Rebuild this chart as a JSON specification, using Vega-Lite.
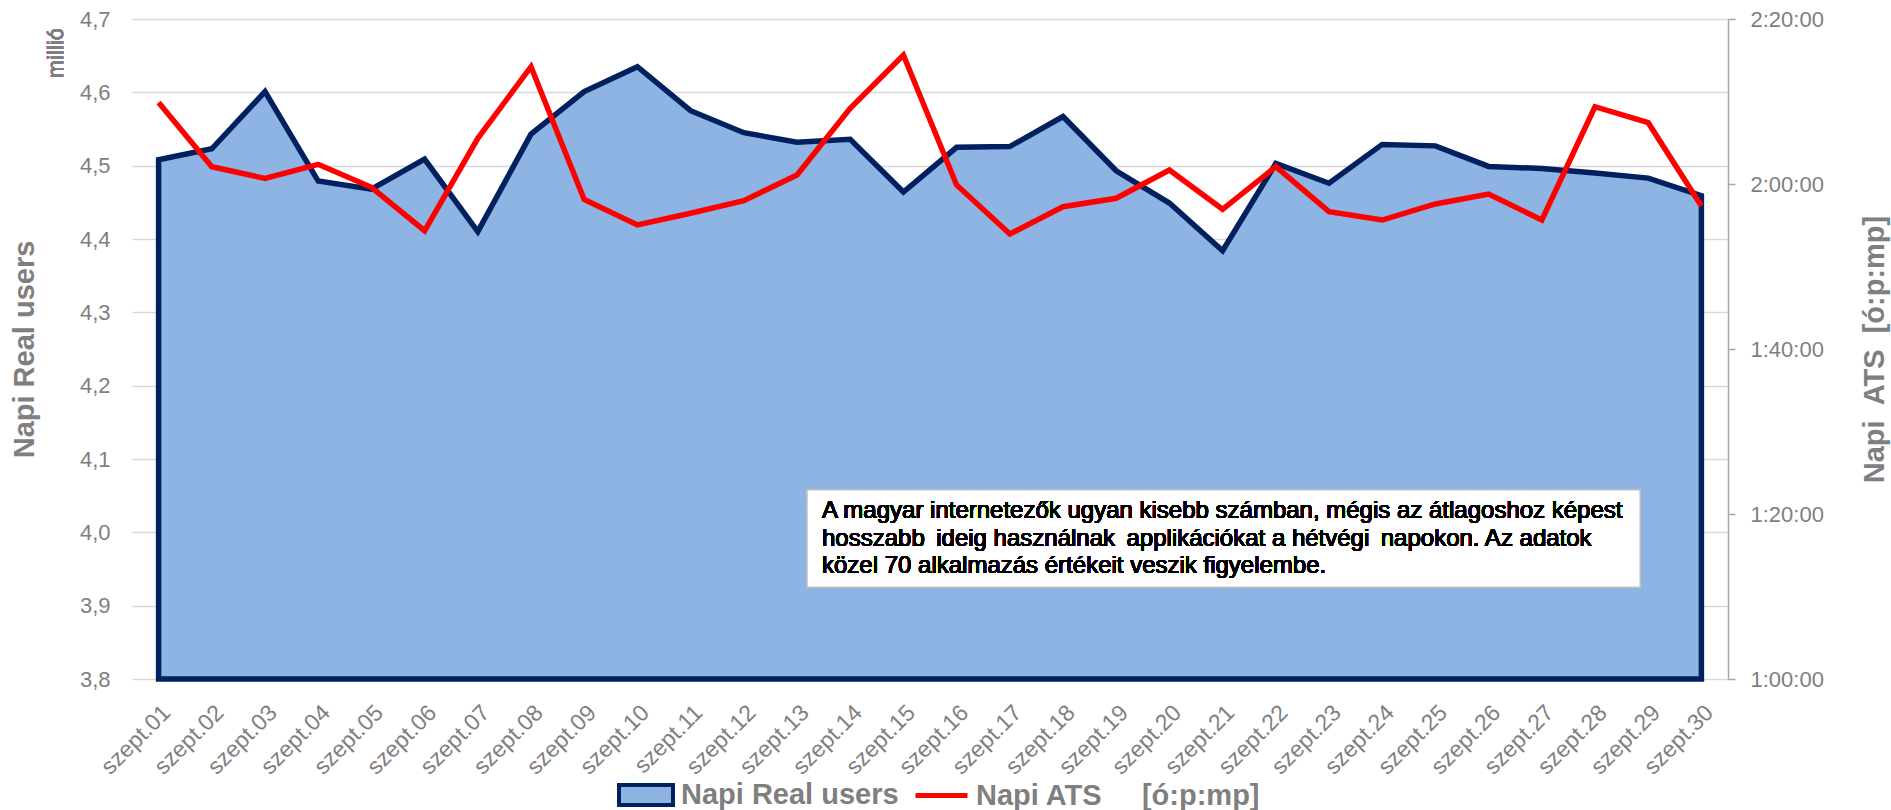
{
  "$schema": "https://vega.github.io/schema/vega-lite/v6.json",
  "width": 1596,
  "height": 660,
  "autosize": {"type": "none"},
  "padding": {"left": 132, "top": 19, "right": 163, "bottom": 131},
  "background": "white",
  "config": {
    "view": {"stroke": null},
    "font": "Arial, Liberation Sans, sans-serif",
    "legend": {"padding": 0}
  },
  "data": {
    "values": [
      {"day": "szept.01", "users": 4.508, "ats": 7792},
      {"day": "szept.02", "users": 4.523, "ats": 7326},
      {"day": "szept.03", "users": 4.601, "ats": 7241},
      {"day": "szept.04", "users": 4.479, "ats": 7343},
      {"day": "szept.05", "users": 4.468, "ats": 7176},
      {"day": "szept.06", "users": 4.509, "ats": 6860},
      {"day": "szept.07", "users": 4.410, "ats": 7532},
      {"day": "szept.08", "users": 4.543, "ats": 8053},
      {"day": "szept.09", "users": 4.601, "ats": 7088},
      {"day": "szept.10", "users": 4.635, "ats": 6902},
      {"day": "szept.11", "users": 4.575, "ats": 6987},
      {"day": "szept.12", "users": 4.545, "ats": 7079},
      {"day": "szept.13", "users": 4.532, "ats": 7266},
      {"day": "szept.14", "users": 4.536, "ats": 7750},
      {"day": "szept.15", "users": 4.464, "ats": 8138},
      {"day": "szept.16", "users": 4.525, "ats": 7193},
      {"day": "szept.17", "users": 4.526, "ats": 6836},
      {"day": "szept.18", "users": 4.567, "ats": 7035},
      {"day": "szept.19", "users": 4.493, "ats": 7096},
      {"day": "szept.20", "users": 4.449, "ats": 7302},
      {"day": "szept.21", "users": 4.384, "ats": 7016},
      {"day": "szept.22", "users": 4.503, "ats": 7326},
      {"day": "szept.23", "users": 4.476, "ats": 6999},
      {"day": "szept.24", "users": 4.529, "ats": 6938},
      {"day": "szept.25", "users": 4.527, "ats": 7055},
      {"day": "szept.26", "users": 4.499, "ats": 7127},
      {"day": "szept.27", "users": 4.496, "ats": 6938},
      {"day": "szept.28", "users": 4.490, "ats": 7762},
      {"day": "szept.29", "users": 4.483, "ats": 7646},
      {"day": "szept.30", "users": 4.459, "ats": 7040}
    ]
  },
  "layer": [
    {
      "layer": [
        {
          "mark": {"type": "area", "stroke": "#002060", "strokeWidth": 5.5, "strokeJoin": "miter", "line": false},
          "encoding": {
            "x": {
              "field": "day", "type": "ordinal", "title": null,
              "scale": {"type": "point", "padding": 0.5, "domain": ["szept.01","szept.02","szept.03","szept.04","szept.05","szept.06","szept.07","szept.08","szept.09","szept.10","szept.11","szept.12","szept.13","szept.14","szept.15","szept.16","szept.17","szept.18","szept.19","szept.20","szept.21","szept.22","szept.23","szept.24","szept.25","szept.26","szept.27","szept.28","szept.29","szept.30"]},
              "axis": {
                "labelAngle": -45, "labelAlign": "right", "labelBaseline": "top",
                "labelFontSize": 23, "labelColor": "#7f7f7f", "labelPadding": 22,
                "ticks": false, "tickSize": 0, "domain": false, "grid": false, "labelOverlap": false
              }
            },
            "y": {
              "field": "users", "type": "quantitative",
              "scale": {"domain": [3.8, 4.7], "zero": false, "nice": false},
              "axis": {
                "title": "Napi Real users",
                "values": [3.8, 3.9, 4.0, 4.1, 4.2, 4.3, 4.4, 4.5, 4.6, 4.7],
                "labelExpr": "replace(format(datum.value, '.1f'), '.', ',')",
                "labelFontSize": 22, "labelColor": "#7f7f7f", "labelPadding": 22,
                "ticks": false, "tickSize": 0, "domain": false,
                "grid": true, "gridColor": "#d9d9d9", "gridWidth": 1.5,
                "titleFontSize": 29, "titleFontWeight": "bold", "titleColor": "#7f7f7f", "titlePadding": 40
              }
            },
            "y2": {"datum": 3.8},
            "fill": {
              "datum": "Napi Real users", "type": "nominal",
              "scale": {"range": ["#8EB4E3"]},
              "legend": {
                "orient": "none", "legendX": 485, "legendY": 747, "title": null,
                "symbolType": "M-1,-0.37H1V0.37H-1Z", "symbolSize": 2916,
                "symbolStrokeColor": "#002060", "symbolStrokeWidth": 4,
                "labelFontSize": 29, "labelFontWeight": "bold", "labelColor": "#7f7f7f", "labelOffset": 6,
                "labelLimit": 600,
                "encode": {"symbols": {"update": {"stroke": {"value": "#002060"}, "strokeWidth": {"value": 4}, "fill": {"value": "#8EB4E3"}, "opacity": {"value": 1}}}}
              }
            }
          }
        },
        {
          "mark": {"type": "rect", "fill": "white", "stroke": "#bfbfbf", "strokeWidth": 1.5, "xOffset": 10, "x2Offset": -8},
          "encoding": {
            "x": {"datum": "szept.13", "type": "ordinal", "title": null},
            "x2": {"datum": "szept.29"},
            "y": {"datum": 4.058, "type": "quantitative"},
            "y2": {"datum": 3.925}
          }
        },
        {
          "mark": {
            "type": "text",
            "text": ["A magyar internetezők ugyan kisebb számban, mégis az átlagoshoz képest", "hosszabb\u2009 ideig használnak\u2009 applikációkat a hétvégi\u2009 napokon. Az adatok", "közel 70 alkalmazás értékeit veszik figyelembe."],
            "align": "left", "baseline": "middle", "fontSize": 24, "lineHeight": 27.5, "fill": "black", "dx": 25
          },
          "encoding": {
            "x": {"datum": "szept.13", "type": "ordinal", "title": null},
            "y": {"datum": 4.029, "type": "quantitative"}
          }
        },
        {
          "mark": {"type": "text", "text": "millió", "angle": 270, "align": "right", "baseline": "middle", "fontSize": 22, "fill": "#7f7f7f", "dx": -9, "dy": -103},
          "encoding": {
            "x": {"datum": "szept.01", "type": "ordinal", "title": null},
            "y": {"datum": 4.7, "type": "quantitative"}
          }
        }
      ]
    },
    {
      "mark": {"type": "line", "strokeWidth": 5.5, "strokeJoin": "miter"},
      "encoding": {
        "x": {"field": "day", "type": "ordinal", "title": null},
        "y": {
          "field": "ats", "type": "quantitative",
          "scale": {"domain": [3600, 8400], "zero": false, "nice": false},
          "axis": {
            "orient": "right",
            "title": "Napi\u00a0 ATS\u00a0 [ó:p:mp]",
            "values": [3600, 4800, 6000, 7200, 8400],
            "labelExpr": "utcFormat(datum.value * 1000, '%-H:%M:%S')",
            "labelFontSize": 22, "labelColor": "#7f7f7f", "labelPadding": 15,
            "domain": true, "domainColor": "#a6a6a6", "domainWidth": 1.5,
            "ticks": true, "tickColor": "#a6a6a6", "tickSize": 7, "tickWidth": 1.5,
            "grid": false,
            "titleFontSize": 29, "titleFontWeight": "bold", "titleColor": "#7f7f7f",
            "titleAngle": 270, "titleBaseline": "top", "titlePadding": 37
          }
        },
        "stroke": {
          "datum": "Napi ATS\u00a0\u00a0\u00a0\u00a0 [ó:p:mp]", "type": "nominal",
          "scale": {"range": ["#FF0000"]},
          "legend": {
            "orient": "none", "legendX": 781, "legendY": 748, "title": null,
            "symbolType": "stroke", "symbolSize": 2704, "symbolStrokeWidth": 5,
            "labelFontSize": 29, "labelFontWeight": "bold", "labelColor": "#7f7f7f", "labelOffset": 6,
            "labelLimit": 600
          }
        }
      }
    }
  ],
  "resolve": {"scale": {"y": "independent"}}
}
